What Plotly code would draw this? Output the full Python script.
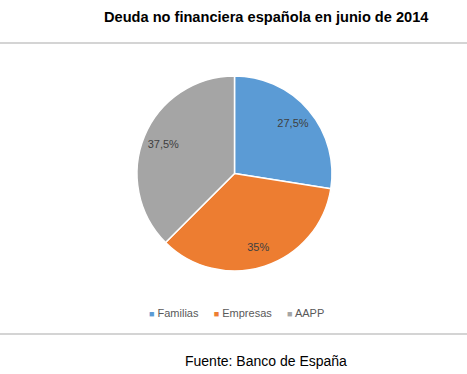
import plotly.graph_objects as go

categories = ["Familias", "Empresas", "AAPP"]
values = [27.5, 35, 37.5]
colors = ["#5B9BD5", "#ED7D31", "#A5A5A5"]
title_text = "Deuda no financiera española en junio de 2014"
source_text = "Fuente: Banco de España"

labels_text = [("%g" % v).replace(".", ",") + "%" for v in values]

W, H = 467, 374
dom = dict(x=[137 / W, 332 / W], y=[1 - 271 / H, 1 - 76 / H])

fig = go.Figure()
# filled pie (slices)
fig.add_trace(go.Pie(
    labels=categories,
    values=values,
    textinfo="none",
    marker=dict(colors=colors, line=dict(color="white", width=1.5)),
    sort=False,
    direction="clockwise",
    rotation=0,
    domain=dom,
    hoverinfo="label+percent",
    showlegend=False,
))
# transparent ring carrying the percentage labels toward the outer edge
fig.add_trace(go.Pie(
    labels=categories,
    values=values,
    text=labels_text,
    textinfo="text",
    textposition="inside",
    insidetextorientation="horizontal",
    textfont=dict(family="Liberation Sans, Arial", size=11, color="#404040"),
    hole=0.58,
    marker=dict(colors=["rgba(0,0,0,0)"] * len(values), line=dict(width=0)),
    sort=False,
    direction="clockwise",
    rotation=0,
    domain=dom,
    hoverinfo="skip",
    showlegend=False,
))

legend_parts = []
for cat, col in zip(categories, colors):
    legend_parts.append(
        '<span style="color:%s;font-size:9px">■</span> %s' % (col, cat))
legend_text = "\u00a0\u00a0\u00a0\u00a0\u00a0".join(legend_parts)

fig.update_layout(
    width=W, height=H,
    margin=dict(l=0, r=0, t=0, b=0),
    paper_bgcolor="white",
    plot_bgcolor="white",
    showlegend=False,
    shapes=[
        dict(type="line", xref="paper", yref="paper", x0=0, x1=1,
             y0=1 - 43 / H, y1=1 - 43 / H, line=dict(color="#D4D4D4", width=2)),
        dict(type="line", xref="paper", yref="paper", x0=0, x1=1,
             y0=1 - 334 / H, y1=1 - 334 / H, line=dict(color="#D4D4D4", width=2)),
    ],
    annotations=[
        dict(text="<b>" + title_text + "</b>", xref="paper", yref="paper",
             x=266 / W, y=1 - 17 / H, xanchor="center", yanchor="middle",
             showarrow=False,
             font=dict(family="Liberation Sans, Arial", size=14.6, color="black")),
        dict(text=source_text, xref="paper", yref="paper",
             x=266 / W, y=1 - 361 / H, xanchor="center", yanchor="middle",
             showarrow=False,
             font=dict(family="Liberation Sans, Arial", size=14, color="black")),
        dict(text=legend_text, xref="paper", yref="paper",
             x=237 / W, y=1 - 313 / H, xanchor="center", yanchor="middle",
             showarrow=False,
             font=dict(family="Liberation Sans, Arial", size=11, color="#595959")),
    ],
)

fig.write_html("out.html", config={"displayModeBar": False},
               post_script="document.body.style.margin='0px';")
